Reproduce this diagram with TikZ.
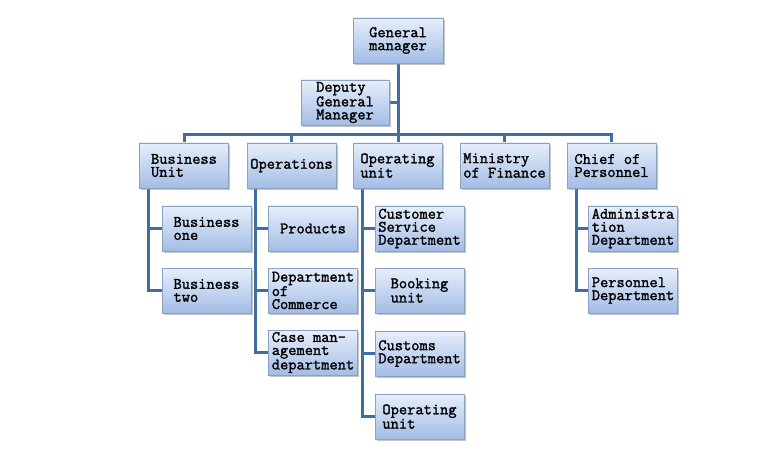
\documentclass[tikz,border=0pt]{standalone}
\usepackage{fontspec}
\setmonofont{Latin Modern Mono}[AutoFakeBold=1.6]
\usetikzlibrary{shadows,calc}
\definecolor{linec}{RGB}{62,111,163}
\definecolor{boxtop}{RGB}{230,238,250}
\definecolor{boxbot}{RGB}{163,189,230}
\definecolor{boxdraw}{RGB}{140,160,192}
\pgfdeclarelayer{bg}
\pgfsetlayers{bg,main}
\tikzset{
  orgbox/.style={draw=boxdraw, line width=0.6pt, top color=boxtop, bottom color=boxbot,
    minimum width=89pt, minimum height=45pt, inner sep=1pt, align=left,
    font=\ttfamily\bfseries\fontsize{16pt}{13pt}\selectfont,
    drop shadow={shadow xshift=1.8pt, shadow yshift=-1.8pt, fill=black!45}},
  conn/.style={draw=linec, line width=3pt}
}
\begin{document}
\begin{tikzpicture}[x=1pt,y=1pt]
\useasboundingbox (0,0) rectangle (771,472);
\coordinate (bus) at (398,337);
\node[orgbox, minimum width=90pt] (gm) at (398,431.5) {General\\manager};
\node[orgbox, minimum width=88pt] (dep) at (345,369.5) {Deputy\\General\\Manager};
\node[orgbox] (bu) at (184,306.5) {Business\\Unit};
\node[orgbox] (ops) at (291.5,306.5) {Operations};
\node[orgbox] (opu) at (397.5,306.5) {Operating\\unit};
\node[orgbox] (fin) at (504.5,306.5) {Ministry\\of Finance};
\node[orgbox] (chief) at (611.5,306.5) {Chief of\\Personnel};
\node[orgbox] (b1) at (206.5,243.5) {Business\\one};
\node[orgbox] (b2) at (206.5,181.5) {Business\\two};
\node[orgbox] (p1) at (313,243.5) {Products};
\node[orgbox] (p2) at (313,181.5) {Department\\of\\Commerce};
\node[orgbox] (p3) at (313,119.5) {Case man-\\agement\\department};
\node[orgbox] (o1) at (419.5,243.5) {Customer\\Service\\Department};
\node[orgbox] (o2) at (419.5,181.5) {Booking\\unit};
\node[orgbox] (o3) at (419.5,118.5) {Customs\\Department};
\node[orgbox] (o4) at (419.5,55.5) {Operating\\unit};
\node[orgbox] (c1) at (633,243.5) {Administra\\tion\\Department};
\node[orgbox] (c2) at (633,181.5) {Personnel\\Department};
\begin{pgfonlayer}{bg}
\draw[conn] (gm.south) -- (gm.south |- opu.north);
\draw[conn] (dep.east) -- (dep.east -| gm.south);
\draw[conn] (bu.north) |- (bus) -| (chief.north);
\draw[conn] (ops.north) |- (bus);
\draw[conn] (fin.north) |- (bus);
\draw[conn] ($(bu.south west)+(9.5,0)$) |- (b1.west);
\draw[conn] ($(bu.south west)+(9.5,0)$) |- (b2.west);
\draw[conn] ($(ops.south west)+(9,0)$) |- (p1.west);
\draw[conn] ($(ops.south west)+(9,0)$) |- (p2.west);
\draw[conn] ($(ops.south west)+(9,0)$) |- (p3.west);
\draw[conn] ($(opu.south west)+(10,0)$) |- (o1.west);
\draw[conn] ($(opu.south west)+(10,0)$) |- (o2.west);
\draw[conn] ($(opu.south west)+(10,0)$) |- (o3.west);
\draw[conn] ($(opu.south west)+(10,0)$) |- (o4.west);
\draw[conn] ($(chief.south west)+(10,0)$) |- (c1.west);
\draw[conn] ($(chief.south west)+(10,0)$) |- (c2.west);
\end{pgfonlayer}
\end{tikzpicture}
\end{document}
